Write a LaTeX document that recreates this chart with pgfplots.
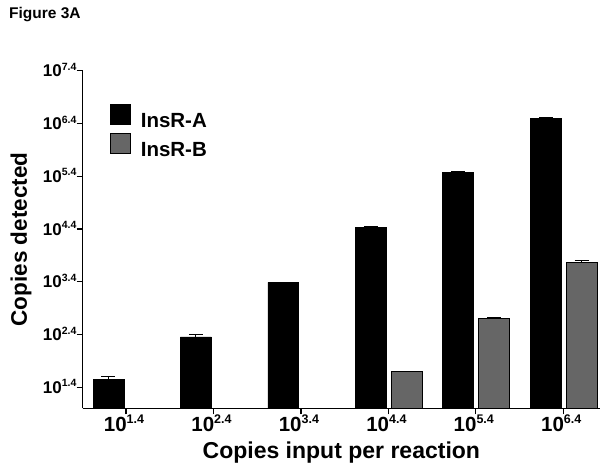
\documentclass[border=0pt]{standalone}
\usepackage{fontspec}
\setmainfont{Liberation Sans}
\usepackage{pgfplots}
\pgfplotsset{compat=1.18}
\definecolor{barB}{RGB}{102,102,102}
\newcommand\ytl[1]{10\raisebox{6.5pt}{\fontsize{10.5}{10.5}\selectfont #1}}
\newcommand\xtl[1]{10\raisebox{8pt}{\fontsize{12.5}{12.5}\selectfont #1}}
\begin{document}
\begin{tikzpicture}
\useasboundingbox (0,0) rectangle (615pt,470pt);
\node[anchor=base west, inner sep=0pt, font=\fontsize{15.5}{18}\selectfont\bfseries] at (9pt,451.7pt) {Figure 3A};
\begin{axis}[
  at={(82.7pt,61.7pt)}, anchor=south west,
  scale only axis, width=517.3pt, height=337.6pt,
  axis lines=left, axis line style={-, line width=1.5pt},
  ymode=log, log origin=infty,
  xmin=-0.495, xmax=5.42, ymin=10, ymax=25118864,
  ybar, bar width=0.354,
  xtick={0,1,2,3,4,5},
  xticklabels={\xtl{1.4},\xtl{2.4},\xtl{3.4},\xtl{4.4},\xtl{5.4},\xtl{6.4}},
  ytick={25.1189,251.189,2511.89,25118.9,251189,2511886,25118864},
  yticklabels={\ytl{1.4},\ytl{2.4},\ytl{3.4},\ytl{4.4},\ytl{5.4},\ytl{6.4},\ytl{7.4}},
  yminorticks=false, xminorticks=false,
  tick align=outside, major tick length=6pt,
  tick style={line width=1.2pt, black},
  xticklabel style={font=\fontsize{20.5}{22}\selectfont\bfseries, anchor=base, yshift=-17.5pt, xshift=-2pt, inner sep=0pt},
  yticklabel style={font=\fontsize{17}{19}\selectfont\bfseries, anchor=base east, yshift=-6.1pt, inner sep=0pt},
  xlabel={Copies input per reaction},
  ylabel={Copies detected},
  xlabel style={font=\fontsize{23}{26}\selectfont\bfseries, at={(axis description cs:0.5,0)}, anchor=base, yshift=-50pt, inner sep=0pt},
  ylabel style={font=\fontsize{22.5}{26}\selectfont\bfseries, at={([xshift=-55.7pt]axis description cs:0,0.5)}, anchor=base, inner sep=0pt},
  legend style={at={(rel axis cs:0.0528,0.9014)}, anchor=north west, draw=none, fill=none,
    font=\fontsize{20.5}{24}\selectfont\bfseries, inner sep=0pt, outer sep=0pt,
    row sep=1pt, column sep=10pt,
    nodes={inner sep=0pt, text height=16pt, text depth=4pt}},
  legend cell align=left,
  legend image code/.code={\draw[#1] (0pt,-2.7pt) rectangle (20pt,17.3pt);},
]
\addplot[fill=black, draw=black, line width=0.8pt, bar shift=-0.2,
  error bars/.cd, y dir=plus, y explicit,
  error bar style={line width=1pt, black},
  error mark options={rotate=90, mark size=7pt, line width=1pt, black}]
  coordinates {(0,35.1) +- (0,5.6) (1,225.4) +- (0,25.8) (2,2427) +- (0,28) (3,26915) +- (0,627) (4,291740) +- (0,10255) (5,3162278) +- (0,73659)};
\addlegendentry{InsR-A}
\addplot[fill=barB, draw=black, line width=0.8pt, bar shift=0.21,
  error bars/.cd, y dir=plus, y explicit,
  error bar style={line width=1pt, black},
  error mark options={rotate=90, mark size=7pt, line width=1pt, black}]
  coordinates {(3,49.0) +- (0,1.1) (4,512.9) +- (0,11.9) (5,5821) +- (0,489)};
\addlegendentry{InsR-B}
\end{axis}
\end{tikzpicture}
\end{document}
